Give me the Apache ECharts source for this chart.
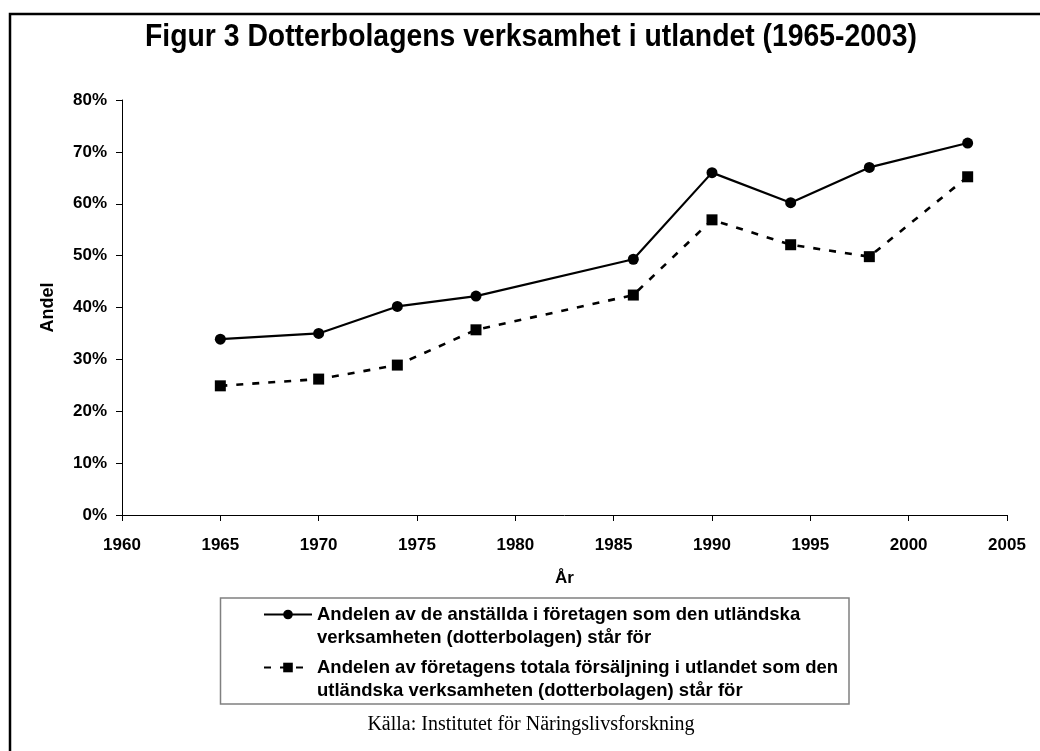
<!DOCTYPE html>
<html>
<head>
<meta charset="utf-8">
<script src="https://cdn.jsdelivr.net/npm/echarts@6/dist/echarts.min.js"></script>
<style>
html,body{margin:0;padding:0;background:#fff;}
#fig3{width:1040px;height:751px;}
</style>
</head>
<body>
<div id="fig3"></div>
<script>
// år för mätpunkterna
var years = [1965, 1970, 1974, 1978, 1986, 1990, 1994, 1998, 2003];
// andel anställda i utländska dotterbolag (%)
var anstallda = [33.9, 35.0, 40.2, 42.2, 49.3, 66.0, 60.2, 67.0, 71.7];
// andel av försäljningen i utlandet (%)
var forsaljning = [24.9, 26.2, 28.9, 35.7, 42.4, 56.9, 52.1, 49.8, 65.2];
var yTicks = [0, 10, 20, 30, 40, 50, 60, 70, 80];
var xTicks = [1960, 1965, 1970, 1975, 1980, 1985, 1990, 1995, 2000, 2005];

var namn1 = 'Andelen av de anställda i företagen som den utländska\nverksamheten (dotterbolagen) står för';
var namn2 = 'Andelen av företagens totala försäljning i utlandet som den\nutländska verksamheten (dotterbolagen) står för';
var rubrik = 'Figur 3 Dotterbolagens verksamhet i utlandet (1965-2003)';
var kalla = 'Källa: Institutet för Näringslivsforskning';

function pairs(xs, ys) {
	var out = [];
	for (var i = 0; i < xs.length; i++) {
		out.push([xs[i], ys[i]]);
	}
	return out;
}

var labelFont = 'Liberation Sans, Arial, sans-serif';

// rubriken är smal (Arial Narrow) - tryck ihop en vanlig fet sans
var titleFont = 'bold 32px Liberation Sans';
var ctx = document.createElement('canvas').getContext('2d');
ctx.font = titleFont;
var titleScale = 772 / ctx.measureText(rubrik).width;

if (document.getElementById('fig3')) {
	var myChart = echarts.init(document.getElementById('fig3'));
	var option = {
		backgroundColor: '#fff',
		animation: false,
		graphic: [{
			type: 'rect',
			shape: { x: 10, y: 14, width: 1100, height: 800 },
			style: { fill: 'none', stroke: '#000', lineWidth: 2.5 },
			silent: true
		}, {
			type: 'text',
			x: 531,
			y: 37,
			scaleX: titleScale,
			style: {
				text: rubrik,
				font: titleFont,
				fill: '#000',
				align: 'center',
				verticalAlign: 'middle'
			}
		}, {
			// ramen runt förklaringen
			type: 'rect',
			shape: { x: 220.5, y: 598, width: 628.5, height: 106 },
			style: { fill: 'none', stroke: '#808080', lineWidth: 1.5 },
			silent: true
		}, {
			type: 'text',
			x: 531,
			y: 725,
			style: {
				text: kalla,
				fontFamily: 'Liberation Serif, serif',
				fontSize: 20,
				fill: '#000',
				align: 'center',
				verticalAlign: 'middle'
			}
		}],
		legend: {
			orient: 'vertical',
			left: 263,
			top: 580,
			padding: 0,
			itemGap: -16,
			itemWidth: 48,
			itemHeight: 12,
			// tom första rad så att symbolen hamnar vid textens första rad
			formatter: function(name) {
				return '\n' + name;
			},
			textStyle: {
				fontFamily: labelFont,
				fontWeight: 'bold',
				fontSize: 18.5,
				lineHeight: 23,
				color: '#000'
			},
			data: [namn1, namn2]
		},
		grid: {
			left: 122,
			right: 33,
			top: 100,
			bottom: 236,
			containLabel: false
		},
		xAxis: {
			type: 'value',
			min: xTicks[0],
			max: xTicks[xTicks.length - 1],
			interval: 5,
			name: 'År',
			nameLocation: 'middle',
			nameGap: 55,
			nameTextStyle: {
				fontFamily: labelFont,
				fontWeight: 'bold',
				fontSize: 17,
				color: '#000'
			},
			axisLine: { lineStyle: { color: '#000', width: 1 } },
			axisTick: { length: 6, lineStyle: { color: '#000' } },
			axisLabel: {
				margin: 22,
				fontFamily: labelFont,
				fontWeight: 'bold',
				fontSize: 17,
				color: '#000',
				formatter: function(v) { return String(v); }
			},
			splitLine: { show: false }
		},
		yAxis: {
			type: 'value',
			min: yTicks[0],
			max: yTicks[yTicks.length - 1],
			interval: 10,
			name: 'Andel',
			nameLocation: 'middle',
			nameGap: 65,
			nameTextStyle: {
				fontFamily: labelFont,
				fontWeight: 'bold',
				fontSize: 18,
				color: '#000'
			},
			axisLine: { show: true, lineStyle: { color: '#000', width: 1 } },
			axisTick: { show: true, length: 6, lineStyle: { color: '#000' } },
			axisLabel: {
				margin: 15,
				fontFamily: labelFont,
				fontWeight: 'bold',
				fontSize: 17,
				color: '#000',
				formatter: '{value}%'
			},
			splitLine: { show: false }
		},
		series: [{
			name: namn1,
			type: 'line',
			symbol: 'circle',
			symbolSize: 11,
			itemStyle: { color: '#000' },
			lineStyle: { color: '#000', width: 2.2, type: 'solid' },
			data: pairs(years, anstallda)
		}, {
			name: namn2,
			type: 'line',
			symbol: 'rect',
			symbolSize: 11,
			itemStyle: { color: '#000' },
			lineStyle: { color: '#000', width: 2.6, type: [7, 9] },
			data: pairs(years, forsaljning)
		}]
	};
	myChart.setOption(option);
}
</script>
</body>
</html>
